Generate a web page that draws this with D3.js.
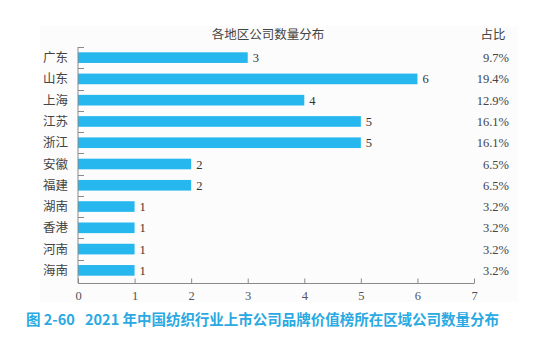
<!DOCTYPE html>
<html><head><meta charset="utf-8">
<script src="https://cdn.jsdelivr.net/npm/d3@7"></script>
<style>
html,body{margin:0;padding:0;background:#fff;}
svg{display:block;}
</style></head>
<body>
<svg id="c" width="557" height="359"></svg>
<script>
const regions = ["广东","山东","上海","江苏","浙江","安徽","福建","湖南","香港","河南","海南"];
const counts = [3,6,4,5,5,2,2,1,1,1,1];
const shares = ["9.7%","19.4%","12.9%","16.1%","16.1%","6.5%","6.5%","3.2%","3.2%","3.2%","3.2%"];
const xTicks = [0,1,2,3,4,5,6,7];
const chartTitle = "各地区公司数量分布";
const shareTitle = "占比";
const captionNo = "图 2-60";
const caption = "2021 年中国纺织行业上市公司品牌价值榜所在区域公司数量分布";

const svg = d3.select("#c");
const serif = "'Liberation Serif','Noto Sans CJK SC',serif";
const axisCol = "#8a8a8a";
const barCol = "#25b7ee";

// panel background
svg.append("rect").attr("x",40).attr("y",26).attr("width",478).attr("height",276).attr("fill","#fcfcfc");

const x = d3.scaleLinear().domain([0,7]).range([78,474]);
const y = d3.scaleBand().domain(regions).range([47,281]).paddingInner(0.5).paddingOuter(0.25);
const yTop = d3.scaleBand().domain(regions).range([47,281]);

// bars
svg.append("g").selectAll("rect").data(regions).join("rect")
  .attr("x",x(0)).attr("y",d=>y(d)).attr("height",y.bandwidth())
  .attr("width",(d,i)=>x(counts[i])-x(0)).attr("fill",barCol);

// value labels
svg.append("g").selectAll("text").data(regions).join("text")
  .attr("x",(d,i)=>x(counts[i])+5).attr("y",d=>y(d)+y.bandwidth()/2)
  .attr("dy","0.36em").attr("font-family",serif).attr("font-size",12.5).attr("fill","#333")
  .text((d,i)=>counts[i]);

// y axis
const yAxisG = svg.append("g").attr("transform",`translate(${x(0)},0)`);
yAxisG.append("line").attr("x1",0).attr("x2",0).attr("y1",47).attr("y2",283).attr("stroke",axisCol);
yAxisG.selectAll("line.t").data(regions).join("line").attr("class","t")
  .attr("x1",0).attr("x2",6).attr("y1",d=>Math.round(yTop(d))+0.5).attr("y2",d=>Math.round(yTop(d))+0.5)
  .attr("stroke",axisCol);
yAxisG.selectAll("text").data(regions).join("text")
  .attr("x",-10).attr("y",d=>y(d)+y.bandwidth()/2).attr("dy","0.36em")
  .attr("text-anchor","end").attr("font-family",serif).attr("font-size",12.5).attr("fill","#444")
  .text(d=>d);

// x axis
const xAxis = d3.axisBottom(x).tickValues(xTicks).tickSize(-5).tickPadding(8).tickFormat(d3.format("d"));
const xg = svg.append("g").attr("transform","translate(0,283.5)").call(xAxis);
xg.select(".domain").attr("stroke",axisCol).attr("d",`M${x(0)},0H${x(7)}`);
xg.selectAll(".tick line").attr("stroke",axisCol);
xg.selectAll(".tick text").attr("font-family",serif).attr("font-size",12.5).attr("fill","#555");

// titles
svg.append("text").attr("x",268).attr("y",39).attr("text-anchor","middle")
  .attr("font-family",serif).attr("font-size",12.5).attr("fill","#444").text(chartTitle);
svg.append("text").attr("x",493).attr("y",39).attr("text-anchor","middle")
  .attr("font-family",serif).attr("font-size",12.5).attr("fill","#444").text(shareTitle);

// shares
svg.append("g").selectAll("text").data(regions).join("text")
  .attr("x",509).attr("y",d=>y(d)+y.bandwidth()/2).attr("dy","0.36em")
  .attr("text-anchor","end").attr("font-family",serif).attr("font-size",12.5).attr("fill","#444")
  .text((d,i)=>shares[i]);

// caption
const capFont = "'Noto Sans CJK SC','Liberation Sans',sans-serif";
svg.append("text").attr("x",26).attr("y",325)
  .attr("font-family",capFont).attr("font-weight","bold")
  .attr("font-size",14.5).attr("fill","#2aa9e2").text(captionNo);
svg.append("text").attr("x",85).attr("y",325).attr("textLength",414).attr("lengthAdjust","spacing")
  .attr("font-family",capFont).attr("font-weight","bold")
  .attr("font-size",14.5).attr("fill","#2aa9e2").text(caption);
</script>
</body></html>
